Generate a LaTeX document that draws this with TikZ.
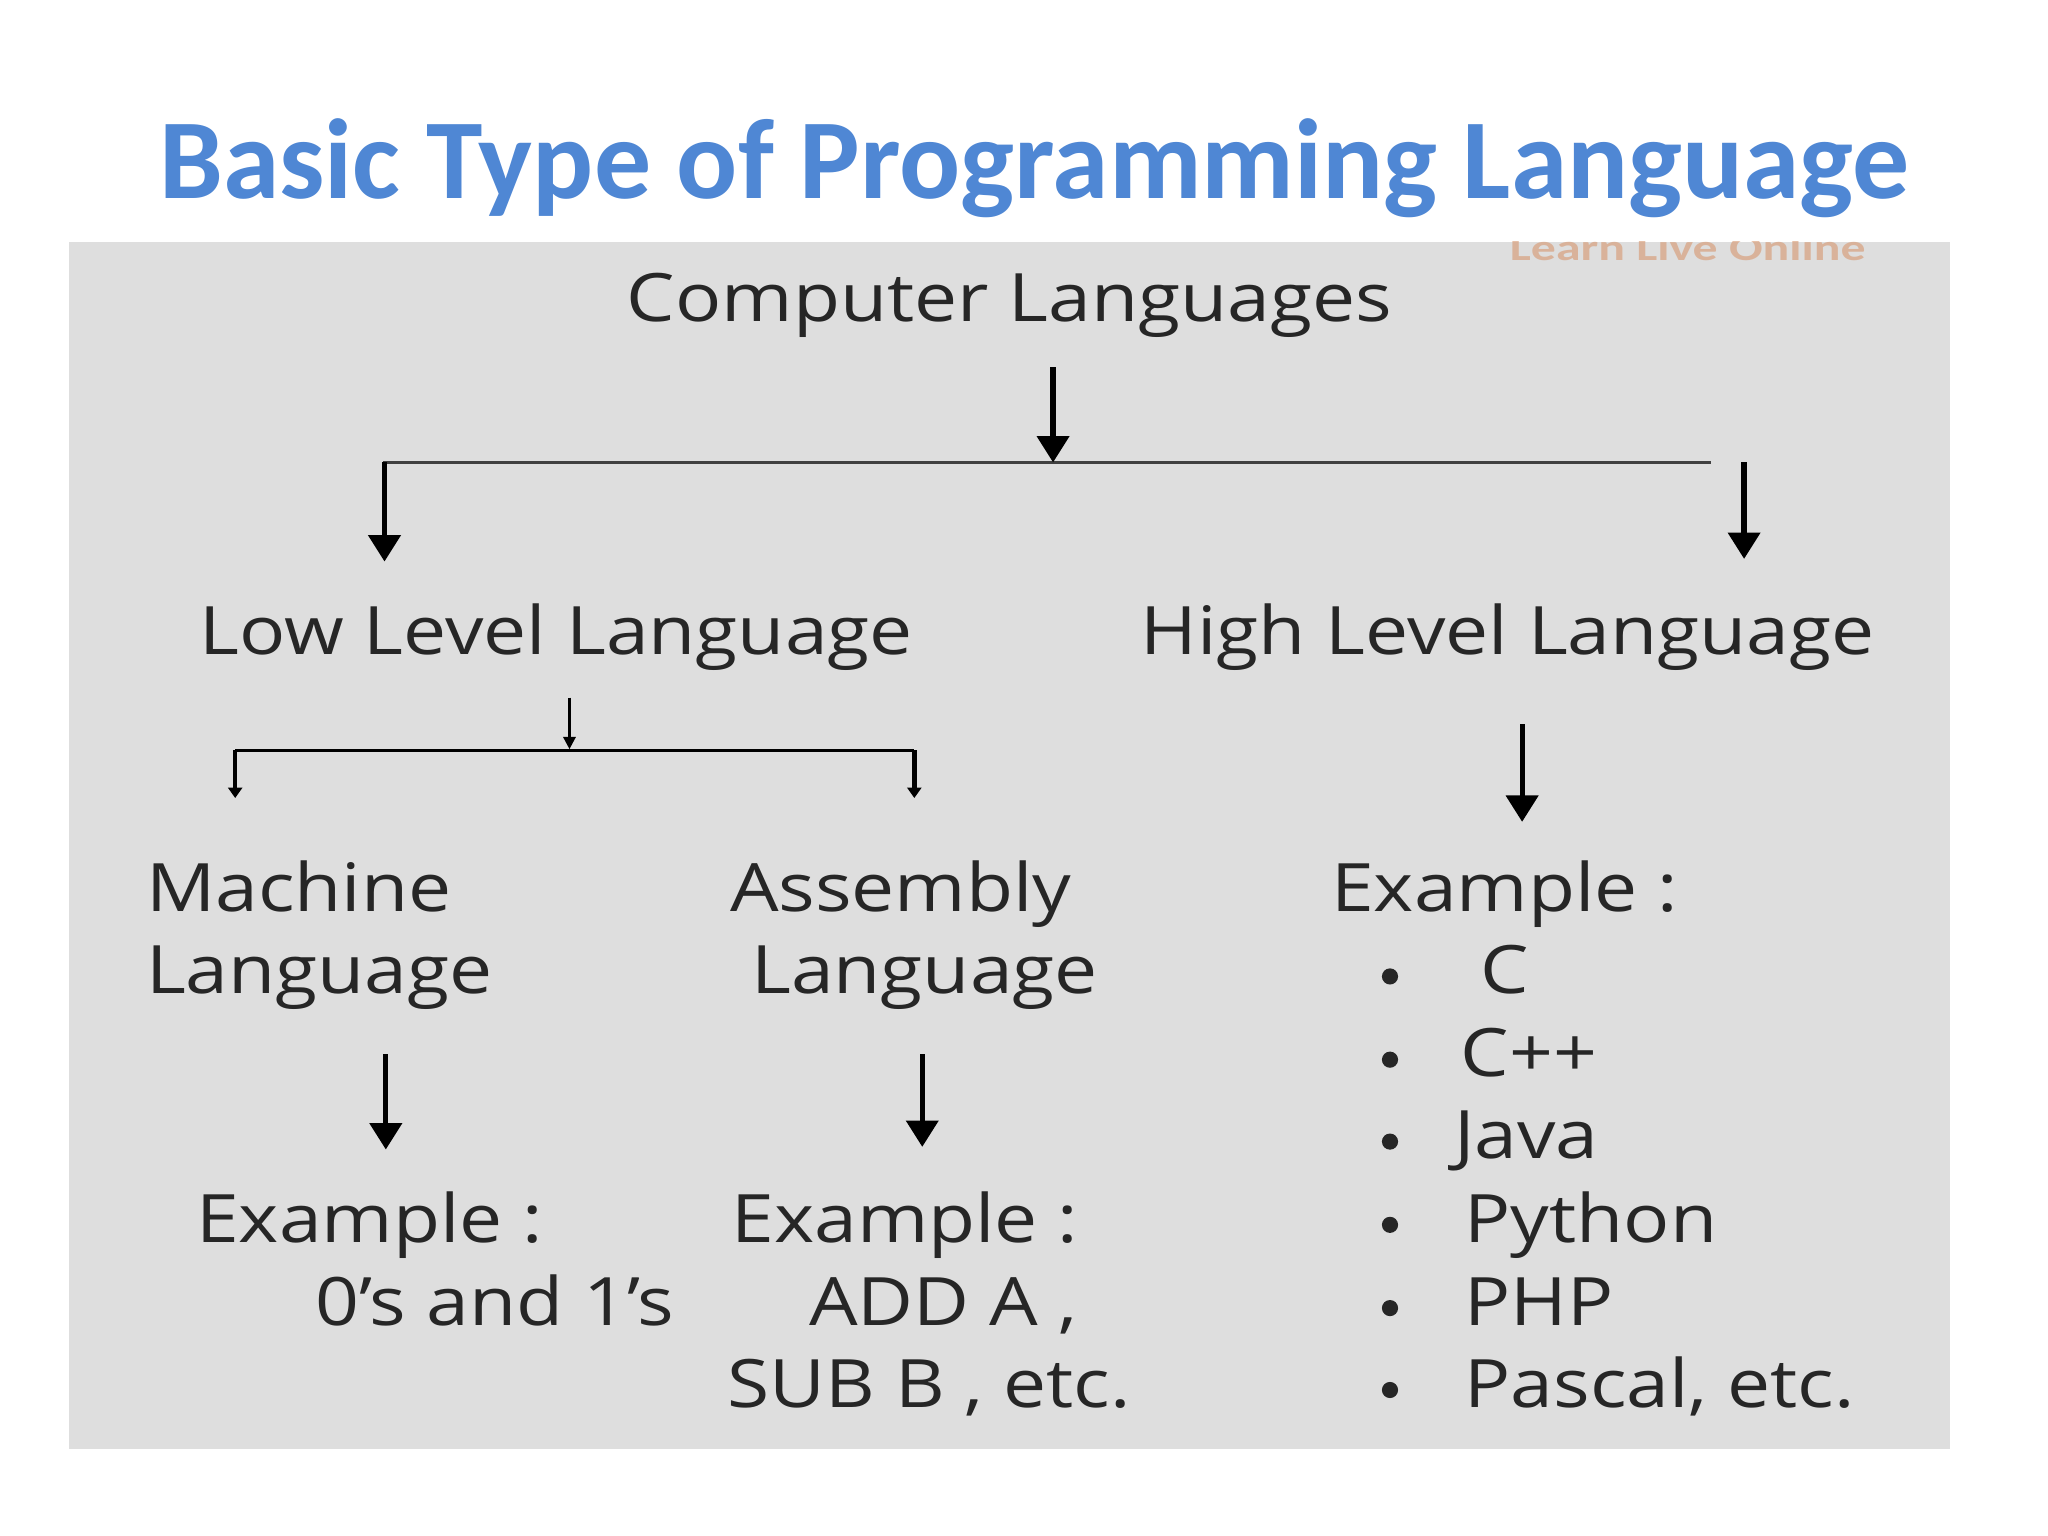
\documentclass[tikz,border=0pt]{standalone}
\usepackage{fontspec}
\setmainfont[FakeStretch=1.15]{Open Sans}
\newfontfamily\titlefont{Carlito}
\usetikzlibrary{arrows.meta}
\definecolor{titleblue}{RGB}{79,135,212}
\definecolor{bgpaper}{RGB}{222,222,222}
\definecolor{ink}{RGB}{38,38,38}
\definecolor{wmark}{RGB}{214,150,110}
\begin{document}
\begin{tikzpicture}[x=0.013213cm,y=-0.013213cm,
  lbl/.style={inner sep=0pt, text=ink, font=\fontsize{19}{22}\selectfont},
  bigarrow/.style={draw=black, line width=1.5pt, -{Triangle[width=9pt,length=7.5pt]}},
  thinarrow/.style={draw=black, line width=0.7pt, -{Triangle[width=3.5pt,length=3.5pt]}},
  tickarrow/.style={draw=black, line width=1.3pt, -{Triangle[width=4pt,length=3pt]}},
  bar/.style={draw=black!75, line width=0.8pt},
  bullet/.style={circle, fill=ink, inner sep=0pt, minimum size=4.6pt}]
\useasboundingbox (0,0) rectangle (1550,1162.5);
\fill[white] (0,0) rectangle (1550,1162.5);
\fill[bgpaper] (52,183) rectangle (1476,1097);
% watermark, cut by the top of the panel
\begin{scope}
\clip (52,183) rectangle (1476,1097);
\node[inner sep=0pt, anchor=base west, xscale=1.35, text=wmark, opacity=0.6, font=\titlefont\bfseries\fontsize{10.5}{12}\selectfont] (wm) at (1142,197) {Learn Live Online};
\end{scope}
% title
\node[inner sep=0pt, anchor=base, text=titleblue, font=\titlefont\bfseries\fontsize{32.4}{36}\selectfont] (title) at (783,150) {Basic Type of Programming Language};
% labels
\node[lbl, anchor=base] (comp) at (764,243) {Computer Languages};
\node[lbl, anchor=base] (low) at (421,495) {Low Level Language};
\node[lbl, anchor=base] (high) at (1141,495) {High Level Language};
\node[lbl, anchor=base west] (mach) at (110,690) {Machine};
\node[lbl, anchor=base west] (mach2) at (110,752) {Language};
\node[lbl, anchor=base west] (asm) at (552,690) {Assembly};
\node[lbl, anchor=base west] (asm2) at (568,752) {Language};
\node[lbl, anchor=base west] (exm) at (148,940) {Example :};
\node[lbl, anchor=base west] (exm2) at (238,1003) {0's and 1's};
\node[lbl, anchor=base west] (exa) at (553,940) {Example :};
\node[lbl, anchor=base west] (exa2) at (612,1003) {ADD A ,};
\node[lbl, anchor=base west] (exa3) at (550,1065) {SUB B , etc.};
\node[lbl, anchor=base west] (exh) at (1007,690) {Example :};
\node[lbl, anchor=base west] (hc) at (1120,752) {C};
\node[lbl, anchor=base west] (hcpp) at (1105,815) {C++};
\node[lbl, anchor=base west] (hjava) at (1100,877) {Java};
\node[lbl, anchor=base west] (hpy) at (1108,940) {Python};
\node[lbl, anchor=base west] (hphp) at (1108,1003) {PHP};
\node[lbl, anchor=base west] (hpas) at (1108,1065) {Pascal, etc.};
\foreach \n/\yy in {b1/752,b2/815,b3/877,b4/940,b5/1003,b6/1065}
  \node[bullet] (\n) at (1052,\yy-13) {};
% connector points
\coordinate (c0) at (797,278);
\coordinate (c1) at (797,350);
\coordinate (jl) at (290,350);
\coordinate (jr) at (1295,350);
\coordinate (lt) at (291,350);
\coordinate (lb) at (291,425);
\coordinate (rt) at (1320,350);
\coordinate (rb) at (1320,423);
\coordinate (s0) at (431,528);
\coordinate (s1) at (431,567);
\coordinate (bl) at (178,568);
\coordinate (br) at (692,568);
\coordinate (blb) at (178,604);
\coordinate (brb) at (692,604);
\coordinate (h0) at (1152,548);
\coordinate (h1) at (1152,622);
\coordinate (m0) at (292,798);
\coordinate (m1) at (292,870);
\coordinate (a0) at (698,798);
\coordinate (a1) at (698,868);
% connectors
\draw[bar] (jl) -- (jr);
\draw[bigarrow] (c0) -- (c1);
\draw[bigarrow] (lt) -- (lb);
\draw[bigarrow] (rt) -- (rb);
\draw[draw=black, line width=1.1pt] (bl) -- (br);
\draw[thinarrow] (s0) -- (s1);
\draw[tickarrow] (bl) -- (blb);
\draw[tickarrow] (br) -- (brb);
\draw[bigarrow] (h0) -- (h1);
\draw[bigarrow] (m0) -- (m1);
\draw[bigarrow] (a0) -- (a1);
\end{tikzpicture}
\end{document}
